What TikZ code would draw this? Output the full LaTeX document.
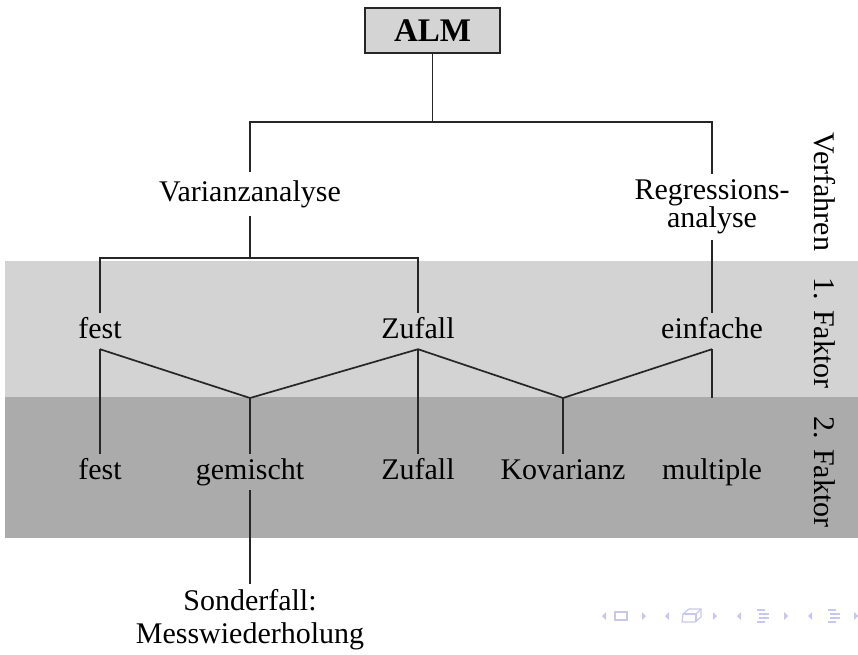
\documentclass[tikz,border=0pt]{standalone}
\usepackage{fontspec}
\setmainfont{Liberation Serif}
\definecolor{bandlight}{RGB}{211,211,211}
\definecolor{banddark}{RGB}{171,171,171}
\definecolor{boxgray}{RGB}{212,212,212}
\definecolor{navblue}{RGB}{200,200,238}
\begin{document}
\begin{tikzpicture}[x=1pt,y=-1pt,
  lbl/.style={font=\fontsize{30}{31}\selectfont, inner xsep=2pt, inner ysep=5pt,
              text height=20pt, text depth=6pt, anchor=base},
  multi/.style={font=\fontsize{30}{28}\selectfont, inner sep=6pt, align=center},
  conn/.style={draw=black!85, line width=1.7pt},
  side/.style={font=\fontsize{30}{31}\selectfont, rotate=-90, inner sep=0pt},
  navtri/.style={fill=navblue, draw=none},
  navline/.style={draw=navblue, line width=1.3pt}]
\useasboundingbox (0,0) rectangle (858,654);

% horizontal bands for the two factor levels
\fill[bandlight] (5,261) rectangle (858,397);
\fill[banddark] (5,397) rectangle (858,538);

% root
\node[draw=black!85, line width=2pt, fill=boxgray, minimum width=135pt,
      minimum height=45pt, font=\fontsize{33}{35}\selectfont\bfseries] (alm) at (432.5,30.5) {ALM};

% methods
\node[lbl, inner ysep=9pt] (var) at (250,201) {Varianzanalyse};
\node[multi] (reg) at (712,207) {Regressions-\\analyse};

% first factor
\node[lbl] (f1) at (100,338) {fest};
\node[lbl] (z1) at (418,338) {Zufall};
\node[lbl] (e1) at (712,338) {einfache};

% second factor
\node[lbl] (f2) at (100,479) {fest};
\node[lbl] (g2) at (250,479) {gemischt};
\node[lbl] (z2) at (418,479) {Zufall};
\node[lbl] (k2) at (563,479) {Kovarianz};
\node[lbl] (m2) at (712,479) {multiple};

% special case
\node[multi, font=\fontsize{30}{33}\selectfont, inner ysep=6pt] (sf) at (250,620) {Sonderfall:\\Messwiederholung};

% side labels
\node[side] (s0) at (825,192) {Verfahren};
\node[side] (s1) at (825,333) {1. Faktor};
\node[side] (s2) at (825,472) {2. Faktor};

% junctions
\coordinate (b0) at (432,122);
\coordinate (b1) at (250,258);
\coordinate (j1) at (250,398);
\coordinate (j2) at (563,398);

% connectors
\draw[conn] (alm.south) -- (alm.south |- b0);
\draw[conn] (var.north) |- (reg.north |- b0) -- (reg.north);
\draw[conn] (var.south) -- (b1);
\draw[conn] (f1.north) |- (z1.north |- b1) -- (z1.north);
\draw[conn] (reg.south) -- (e1.north);
\draw[conn] (f1.south) -- (j1) -- (z1.south) -- (j2) -- (e1.south);
\draw[conn] (f1.south) -- (f2.north);
\draw[conn] (z1.south) -- (z2.north);
\draw[conn] (j1) -- (g2.north);
\draw[conn] (j2) -- (k2.north);
\draw[conn] (e1.south) -- (e1.south |- j1);
\draw[conn] (g2.south) -- (sf.north);

% navigation symbols
\begin{scope}[shift={(0,616)}]
  % frame
  \fill[navtri] (602,0) -- (606,-4) -- (606,4) -- cycle;
  \draw[navline, line width=1.2pt] (615,-4) rectangle (627,4);
  \fill[navtri] (646,0) -- (642,-4) -- (642,4) -- cycle;
  % subsection
  \fill[navtri] (665,0) -- (669,-4) -- (669,4) -- cycle;
  \draw[navline, line width=1.2pt, fill=white] (683,-2) -- (689,-7) -- (701,-7) -- (701,1) -- (695,6) -- (682,6) -- cycle;
  \draw[navline, line width=1.2pt] (683,-2) -- (696,-2) -- (696,6);
  \draw[navline, line width=1.2pt] (696,-2) -- (701,-7);
  \fill[navtri] (717,0) -- (713,-4) -- (713,4) -- cycle;
  % section
  \fill[navtri] (737,0) -- (741,-4) -- (741,4) -- cycle;
  \draw[navline, line width=1.1pt] (757,-6) -- (765,-6) (759,-2) -- (769,-2) (759,2) -- (769,2) (757,6) -- (765,6);
  \fill[navtri] (788,0) -- (784,-4) -- (784,4) -- cycle;
  % document
  \fill[navtri] (808,0) -- (812,-4) -- (812,4) -- cycle;
  \draw[navline, line width=1.1pt] (828,-6) -- (836,-6) (830,-2) -- (840,-2) (830,2) -- (840,2) (828,6) -- (836,6);
  \fill[navtri] (858,0) -- (854,-4) -- (854,4) -- cycle;
\end{scope}
\end{tikzpicture}
\end{document}
